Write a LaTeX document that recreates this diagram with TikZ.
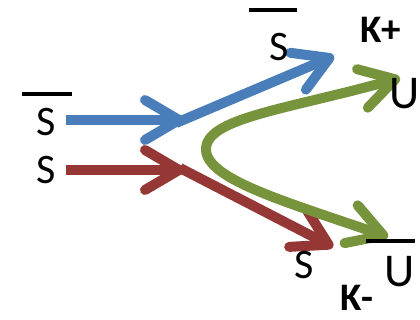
\documentclass[tikz,border=0pt]{standalone}
\usepackage{fontspec}
\setmainfont{Carlito}
\usetikzlibrary{arrows.meta}
\definecolor{qblue}{RGB}{74,126,187}
\definecolor{qred}{RGB}{149,55,53}
\definecolor{qgreen}{RGB}{119,147,60}
\begin{document}
\begin{tikzpicture}[x=1pt,y=-1pt,
  tipk/.tip={Straight Barb[length=34pt,width=40pt,round]},
  flow/.style={line width=10pt,-tipk},
  flow2/.style={line width=10pt,tipk-tipk},
  lbl/.style={inner sep=0pt,font=\fontsize{42}{42}\selectfont},
  lblU/.style={inner sep=0pt,font=\fontsize{47}{47}\selectfont},
  klbl/.style={inner sep=0pt,font=\fontsize{39}{39}\selectfont\bfseries},
  bar/.style={line width=4pt}]
\useasboundingbox (0,0) rectangle (420,320);
% coordinates
\coordinate (b0) at (66,120);
\coordinate (b1) at (184,120);
\coordinate (b2) at (176,123);
\coordinate (b3) at (334,56);
\coordinate (r0) at (66,170);
\coordinate (r1) at (184,170);
\coordinate (r2) at (180,168);
\coordinate (r3) at (333,247);
\coordinate (gt) at (400,78);
\coordinate (gv) at (206,150);
\coordinate (gb) at (388,237);
% arrows
\draw[flow,qblue] (b0) -- (b1);
\draw[flow,qblue] (b2) -- (b3);
\draw[flow,qred] (r0) -- (r1);
\draw[flow,qred] (r2) -- (r3);
\draw[flow2,qgreen] (gt) .. controls (285,110) and (205,118) .. (gv) .. controls (207,180) and (290,203) .. (gb);
% labels
\node[lbl] (s1) at (46,122) {S};
\node[lbl] (s2) at (46,170) {S};
\coordinate (bl1) at (22,94);
\coordinate (bl2) at (72,94);
\draw[bar] (bl1) -- (bl2);
\node[lbl] (s3) at (279,47) {S};
\coordinate (bt1) at (249,10);
\coordinate (bt2) at (297,10);
\draw[bar] (bt1) -- (bt2);
\node[klbl] (kp) at (381,30) {K+};
\node[lblU] (u1) at (405,94) {U};
\node[lbl] (s4) at (304,265) {S};
\coordinate (bb1) at (366,241);
\coordinate (bb2) at (415,241);
\draw[bar] (bb1) -- (bb2);
\node[lblU] (u2) at (400,272) {U};
\node[klbl] (km) at (357,298) {K-};
\end{tikzpicture}
\end{document}
